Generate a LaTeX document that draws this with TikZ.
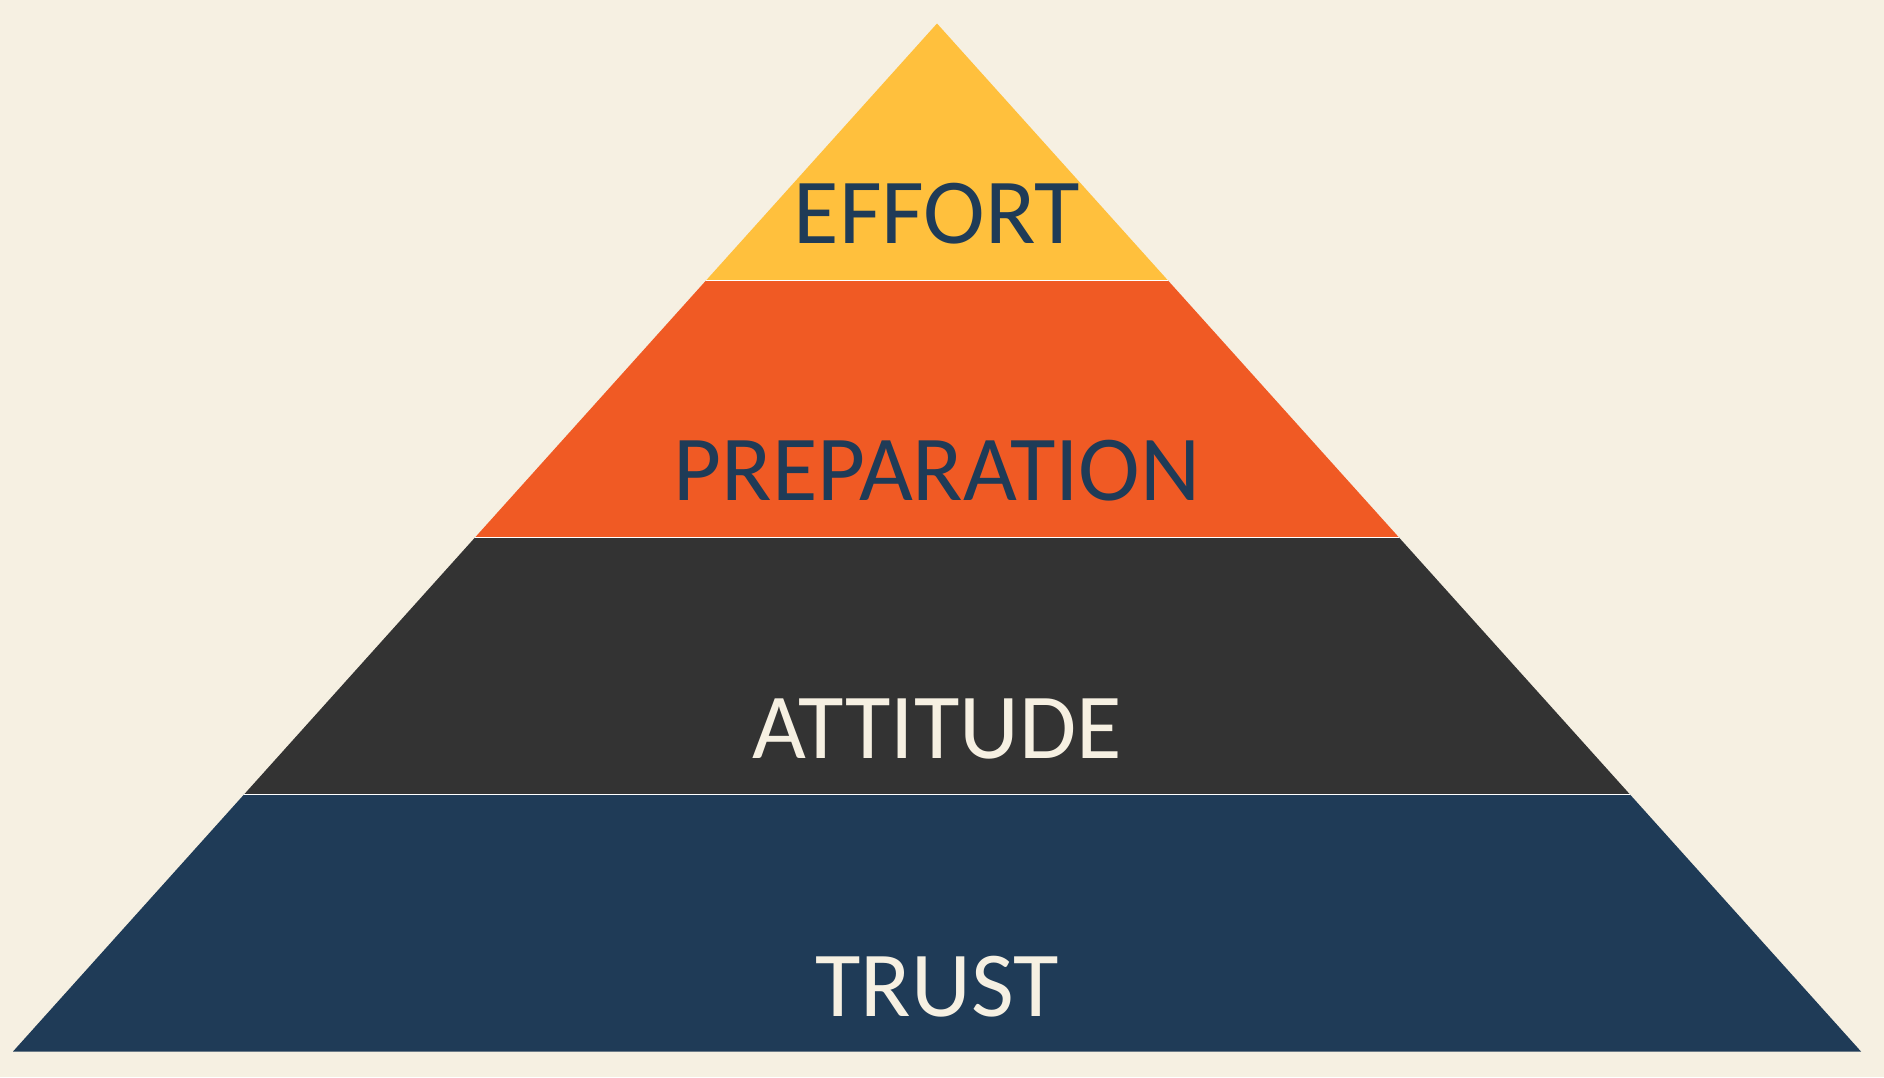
\documentclass[tikz,border=0pt]{standalone}
\usepackage{fontspec}
\setmainfont{Carlito}
\definecolor{bgc}{HTML}{F6F0E2}
\definecolor{yel}{HTML}{FFC03D}
\definecolor{ora}{HTML}{F05A24}
\definecolor{drk}{HTML}{333333}
\definecolor{nav}{HTML}{1F3B57}
\definecolor{lite}{HTML}{F6F0E2}
\begin{document}
\begin{tikzpicture}[x=1pt,y=1pt,
  band/.style={draw=white,line width=1.6pt,line join=miter},
  lbl/.style={font=\fontsize{93}{100}\selectfont,inner sep=0pt,anchor=center}]
\useasboundingbox[fill=bgc] (0,0) rectangle (1884,1077);
\coordinate (apex) at (937,1053.5);
\coordinate (l1) at (706,796.5);  \coordinate (r1) at (1168,796.5);
\coordinate (l2) at (475,539.5);  \coordinate (r2) at (1399,539.5);
\coordinate (l3) at (244,282.5);  \coordinate (r3) at (1630,282.5);
\coordinate (l4) at (13,25.5);    \coordinate (r4) at (1861,25.5);
\fill[yel] (apex) -- (l1) -- (r1) -- cycle;
\fill[ora] (l1) -- (l2) -- (r2) -- (r1) -- cycle;
\fill[drk] (l2) -- (l3) -- (r3) -- (r2) -- cycle;
\fill[nav] (l3) -- (l4) -- (r4) -- (r3) -- cycle;
\draw[white,line width=1.8pt] (l1) -- (r1);
\draw[white,line width=1.8pt] (l2) -- (r2);
\draw[white,line width=1.8pt] (l3) -- (r3);
\node[lbl,text=nav] (effort) at (937,863) {EFFORT};
\node[lbl,text=nav] (prep) at (937,606) {PREPARATION};
\node[lbl,text=lite] (att) at (937,348) {ATTITUDE};
\node[lbl,text=lite] (trust) at (937,90) {TRUST};
\end{tikzpicture}
\end{document}
